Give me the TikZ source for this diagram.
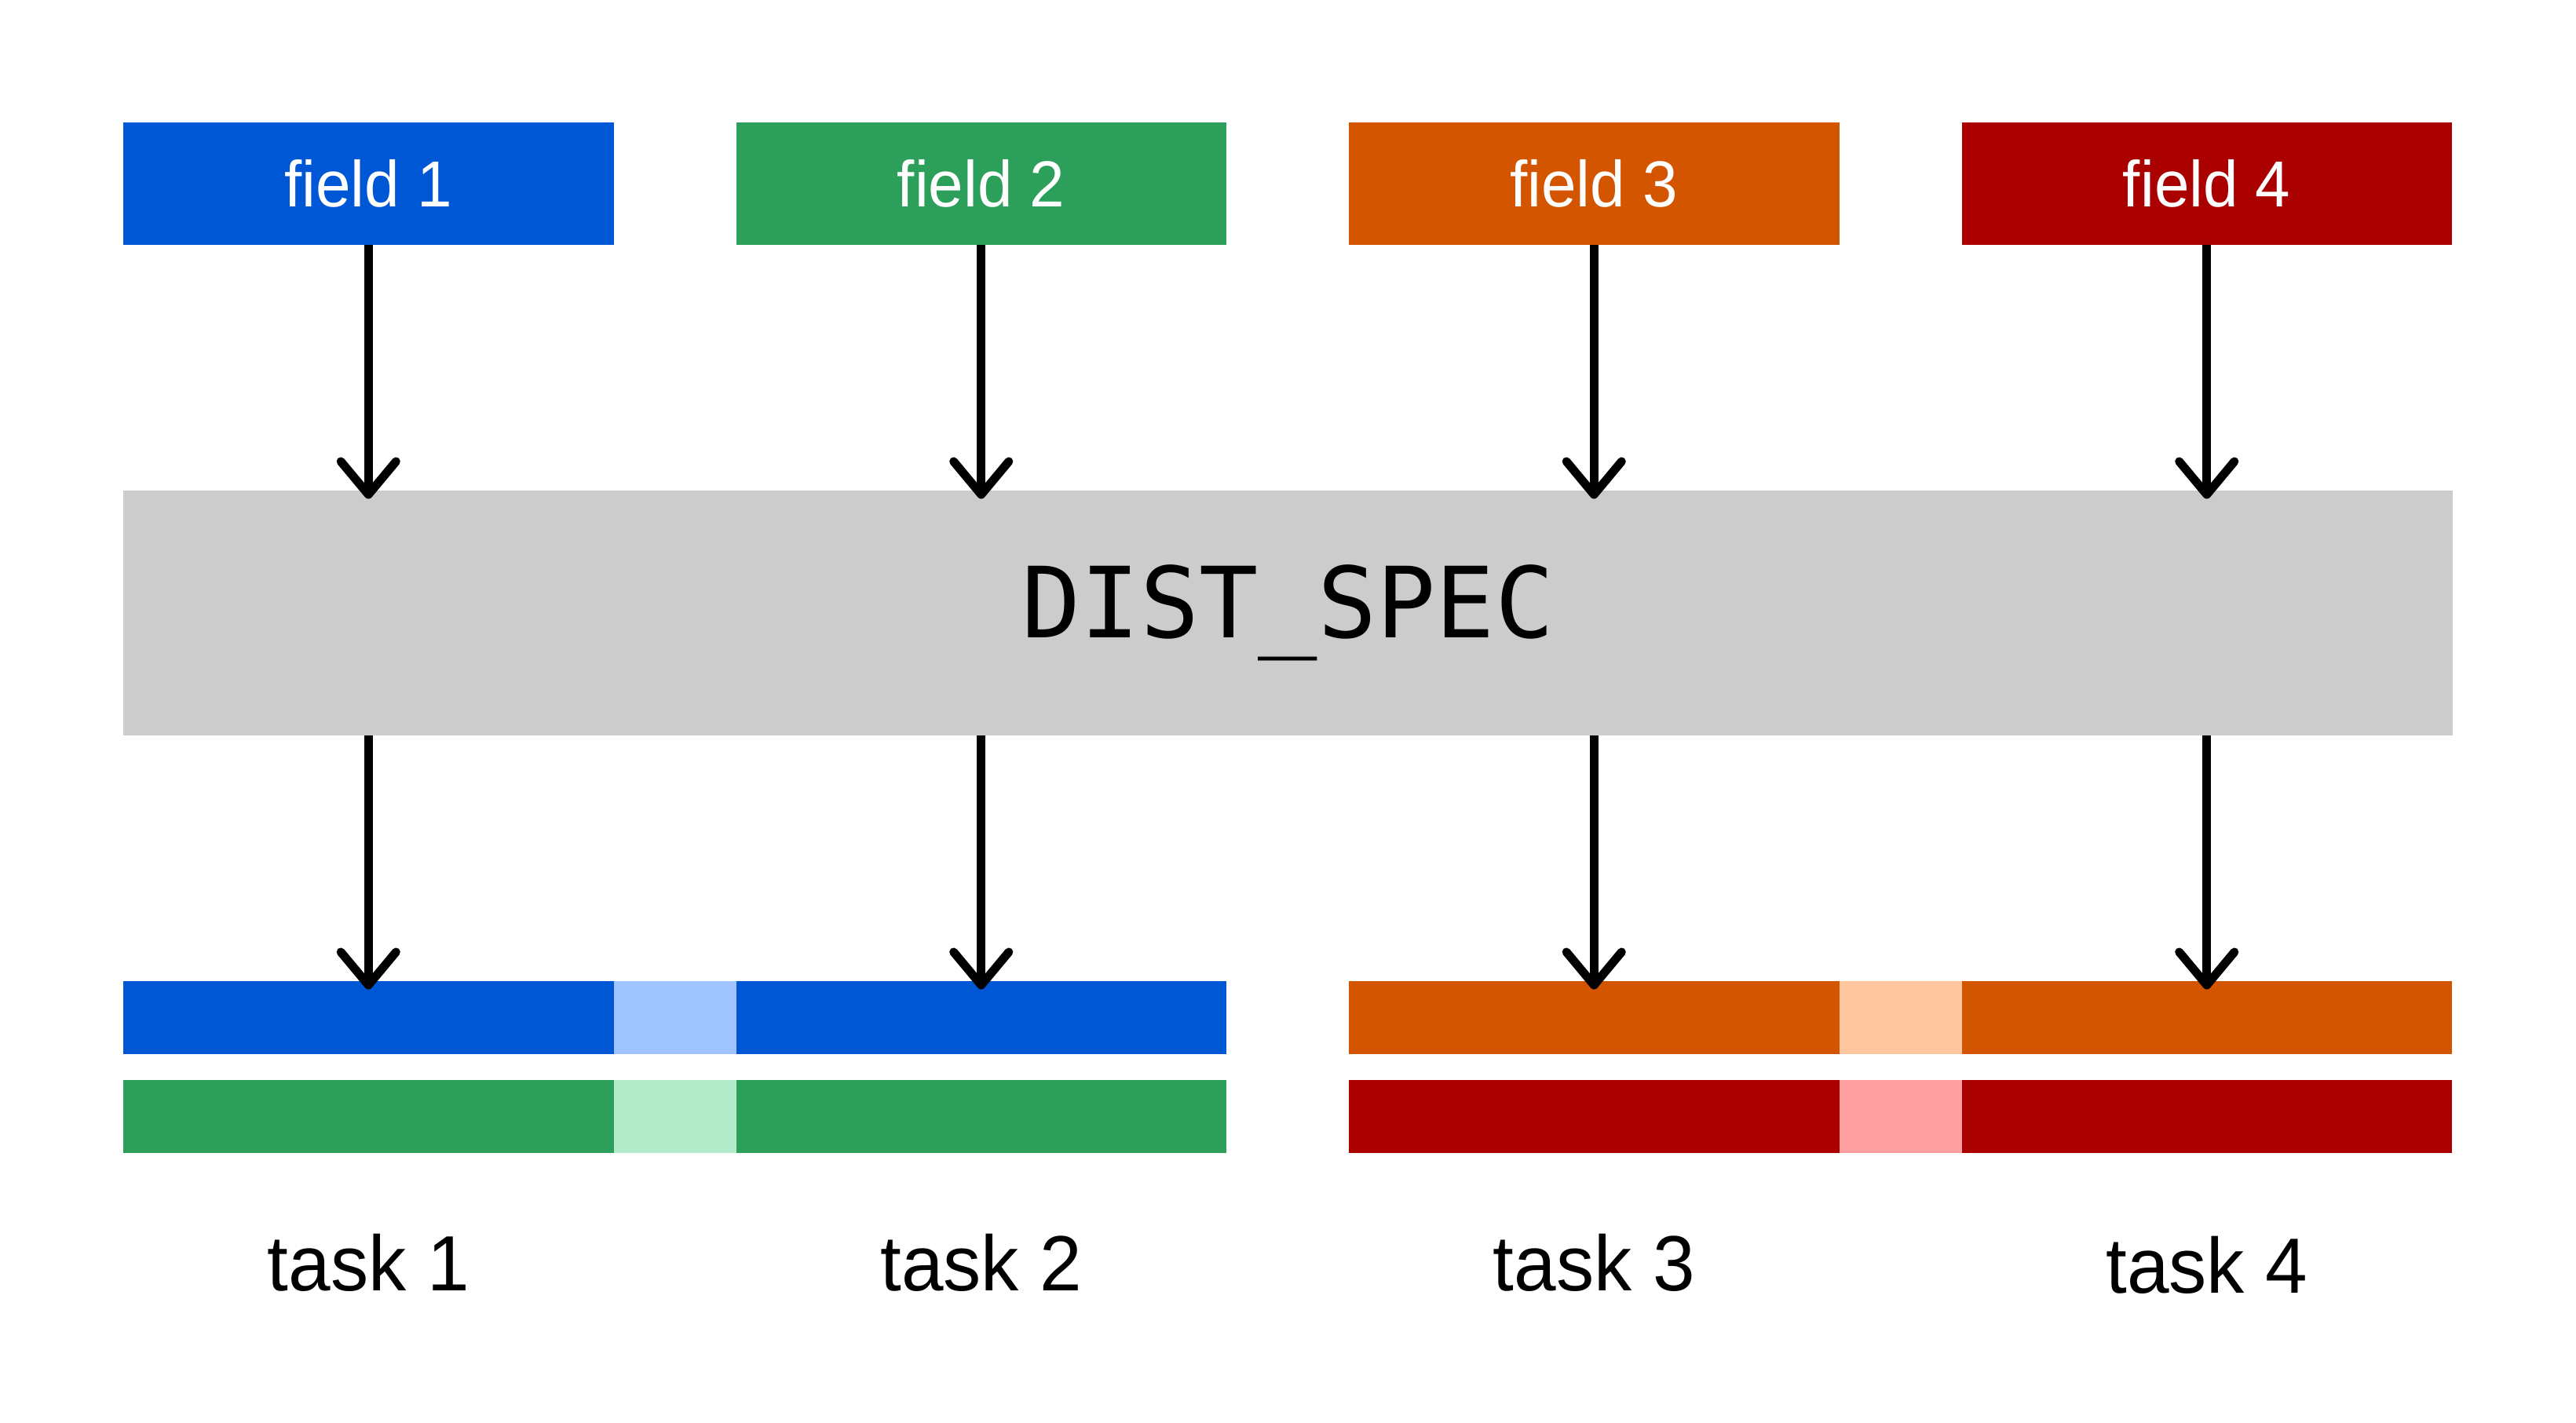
\documentclass[tikz,border=0pt]{standalone}
\usepackage{fontspec}
\setmainfont[FakeStretch=0.965]{Liberation Sans}
\newfontfamily\specfont{DejaVu Sans Mono}
\usepackage{xcolor}
\usepackage{tikz}
\usetikzlibrary{positioning, arrows.meta}

\definecolor{fblue}{HTML}{0057D6}
\definecolor{fgreen}{HTML}{2CA05A}
\definecolor{forange}{HTML}{D45500}
\definecolor{fred}{HTML}{AA0000}
\definecolor{lblue}{HTML}{A0C4FF}
\definecolor{lgreen}{HTML}{B3EBCA}
\definecolor{lorange}{HTML}{FFC6A0}
\definecolor{lred}{HTML}{FFA0A0}
\definecolor{specgray}{HTML}{CCCCCC}

\begin{document}
\begin{tikzpicture}[
          every node/.style={inner sep=0pt, outer sep=0pt},
          field/.style={minimum height=1.56cm, minimum width=6.245cm, text=white, font=\fontsize{23.6}{28}\selectfont},
          spec/.style={fill=specgray, minimum height=3.12cm, minimum width=29.67cm, font=\specfont\fontsize{35.6}{42}\selectfont},
          bar/.style={minimum height=0.93cm, minimum width=6.245cm},
          gapbar/.style={minimum height=0.93cm, minimum width=1.56cm},
          task/.style={font=\fontsize{28.4}{34}\selectfont},
          arrow/.style={-{Straight Barb[length=12pt, width=20pt, round]}, line width=3.1pt, shorten >=-3pt}
      ]
      \useasboundingbox (0,0) rectangle (32.81,-18.13);

      % Fields
      \node[field, fill=fblue, anchor=north west] (f1) at (1.57,-1.56) {field 1};
      \node[field, fill=fgreen, right=1.56cm of f1] (f2) {field 2};
      \node[field, fill=forange, right=1.56cm of f2] (f3) {field 3};
      \node[field, fill=fred, right=1.56cm of f3] (f4) {field 4};

      % Spec
      \node[spec, below=3.13cm of f1.south west, anchor=north west] (spec) {DIST\_SPEC};

      % Bars, tasks 1 and 2
      \node[bar, fill=fblue, below=3.13cm of spec.south west, anchor=north west] (b1a) {};
      \node[gapbar, fill=lblue, right=0pt of b1a] (b1g) {};
      \node[bar, fill=fblue, right=0pt of b1g] (b1b) {};
      \node[bar, fill=fgreen, below=0.33cm of b1a] (b2a) {};
      \node[gapbar, fill=lgreen, right=0pt of b2a] (b2g) {};
      \node[bar, fill=fgreen, right=0pt of b2g] (b2b) {};

      % Bars, tasks 3 and 4
      \node[bar, fill=forange, right=1.56cm of b1b] (b3a) {};
      \node[gapbar, fill=lorange, right=0pt of b3a] (b3g) {};
      \node[bar, fill=forange, right=0pt of b3g] (b3b) {};
      \node[bar, fill=fred, below=0.33cm of b3a] (b4a) {};
      \node[gapbar, fill=lred, right=0pt of b4a] (b4g) {};
      \node[bar, fill=fred, right=0pt of b4g] (b4b) {};

      % Task labels
      \node[task, below=1.75cm of b2a.south, anchor=base] (t1) {task 1};
      \node[task, below=1.75cm of b2b.south, anchor=base] (t2) {task 2};
      \node[task, below=1.75cm of b4a.south, anchor=base] (t3) {task 3};
      \node[task, below=1.78cm of b4b.south, anchor=base] (t4) {task 4};

      % Arrows
      \draw[arrow] (f1) -- (f1 |- spec.north);
      \draw[arrow] (f2) -- (f2 |- spec.north);
      \draw[arrow] (f3) -- (f3 |- spec.north);
      \draw[arrow] (f4) -- (f4 |- spec.north);
      \draw[arrow] (spec.south -| b1a) -- (b1a.north);
      \draw[arrow] (spec.south -| b1b) -- (b1b.north);
      \draw[arrow] (spec.south -| b3a) -- (b3a.north);
      \draw[arrow] (spec.south -| b3b) -- (b3b.north);

      \end{tikzpicture}
\end{document}
